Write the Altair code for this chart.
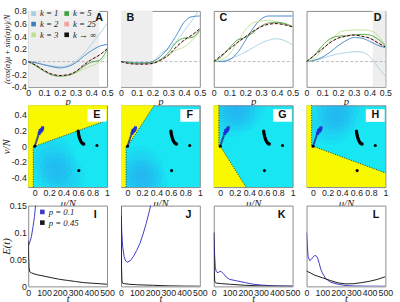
import altair as alt
import pandas as pd

# ---------------- data: row 1 (A-D) ----------------
P_GRID = [0.0, 0.05, 0.10, 0.15, 0.20, 0.25, 0.30, 0.35, 0.40, 0.45, 0.50]
K_NAMES = ["k = 1", "k = 2", "k = 3", "k = 5", "k = 25", "k → ∞"]
K_COLORS = ["#a6cee3", "#3b7fc0", "#bde08f", "#3ca33a", "#f6a09e", "#111111"]

A_CURVES = [
    [0, -0.02, -0.05, -0.07, -0.08, -0.06, 0.00, 0.12, 0.27, 0.43, 0.60],
    [0, -0.02, -0.05, -0.08, -0.10, -0.08, -0.02, 0.08, 0.17, 0.24, 0.27],
    [0, -0.07, -0.15, -0.21, -0.23, -0.22, -0.18, -0.12, -0.07, -0.01, 0.10],
    [0, -0.07, -0.15, -0.21, -0.23, -0.22, -0.17, -0.08, -0.01, 0.02, 0.18],
    [0, -0.06, -0.14, -0.20, -0.22, -0.21, -0.16, -0.06, 0.03, 0.10, 0.20],
    [0, -0.06, -0.14, -0.20, -0.22, -0.21, -0.16, -0.06, 0.03, 0.10, 0.20],
]
B_CURVES = [
    [0, -0.01, -0.02, -0.02, 0.00, 0.12, 0.20, 0.32, 0.48, 0.65, 0.83],
    [0, -0.01, -0.02, -0.02, 0.00, 0.08, 0.22, 0.41, 0.62, 0.71, 0.72],
    [0, -0.02, -0.03, -0.03, -0.02, 0.03, 0.10, 0.18, 0.23, 0.33, 0.48],
    [0, -0.02, -0.03, -0.03, -0.02, 0.03, 0.14, 0.30, 0.37, 0.38, 0.50],
    [0, -0.03, -0.04, -0.04, -0.03, 0.02, 0.10, 0.22, 0.33, 0.41, 0.51],
    [0, -0.03, -0.04, -0.04, -0.03, 0.02, 0.10, 0.23, 0.34, 0.42, 0.52],
]
C_CURVES = [
    [0, 0.01, 0.04, 0.09, 0.15, 0.22, 0.29, 0.34, 0.36, 0.33, 0.26],
    [0, 0.00, 0.03, 0.14, 0.33, 0.53, 0.67, 0.72, 0.72, 0.72, 0.72],
    [0, 0.03, 0.12, 0.30, 0.50, 0.61, 0.64, 0.65, 0.63, 0.60, 0.56],
    [0, 0.08, 0.22, 0.34, 0.38, 0.46, 0.56, 0.61, 0.62, 0.60, 0.55],
    [0, 0.10, 0.20, 0.30, 0.39, 0.48, 0.55, 0.60, 0.60, 0.58, 0.55],
    [0, 0.10, 0.20, 0.30, 0.39, 0.48, 0.55, 0.59, 0.60, 0.58, 0.55],
]
D_CURVES = [
    [0, 0.02, 0.05, 0.09, 0.12, 0.14, 0.155, 0.15, 0.08, -0.08, -0.23],
    [0, 0.02, 0.07, 0.15, 0.25, 0.33, 0.38, 0.37, 0.32, 0.26, 0.22],
    [0, 0.05, 0.18, 0.32, 0.45, 0.49, 0.50, 0.50, 0.49, 0.42, 0.25],
    [0, 0.10, 0.25, 0.36, 0.40, 0.41, 0.42, 0.43, 0.42, 0.36, 0.25],
    [0, 0.10, 0.20, 0.30, 0.37, 0.40, 0.42, 0.40, 0.37, 0.30, 0.23],
    [0, 0.10, 0.20, 0.30, 0.37, 0.40, 0.42, 0.40, 0.37, 0.30, 0.23],
]
ROW1_CURVES = [A_CURVES, B_CURVES, C_CURVES, D_CURVES]
ROW1_SHADE = [(0.0, 0.45), (0.0, 0.20), None, (0.42, 0.50)]
ROW1_LETTERS = ["A", "B", "C", "D"]
ROW1_LETTER_P = [0.45, 0.06, 0.06, 0.45]
ROW1_LETTER_V = [0.69, 0.69, 0.69, 0.69]
P_TICKS = [0, 0.1, 0.2, 0.3, 0.4, 0.5]
V1_TICKS = [-0.4, -0.2, 0, 0.2, 0.4, 0.6, 0.8]
V1_DOMAIN = [-0.4, 0.8]

# ---------------- data: row 2 (E-H) ----------------
MU_DOMAIN = [-0.09, 1.0]
NU_DOMAIN = [-0.52, 0.52]
MU_TICKS = [0, 0.2, 0.4, 0.6, 0.8, 1]
NU_TICKS = [-0.4, -0.2, 0, 0.2, 0.4]
# phase boundaries (mu, nu) and which side is yellow
E_BND_MU = [-0.0201, -0.02, 0.0, 1.0]
E_BND_NU = [-0.52, 0.0, 0.0, 0.33]
F_BND_MU = [-0.0201, -0.02, 0.0, 0.37]
F_BND_NU = [-0.52, 0.0, 0.0, 0.52]
G_BND_MU = [-0.0201, -0.02, 0.0, 0.355]
G_BND_NU = [0.52, 0.0, 0.0, -0.52]
H_BND_MU = [-0.0201, -0.02, 0.0, 1.0]
H_BND_NU = [0.52, 0.0, 0.0, -0.34]
ROW2_BND = [(E_BND_MU, E_BND_NU, "above"), (F_BND_MU, F_BND_NU, "above"),
            (G_BND_MU, G_BND_NU, "below"), (H_BND_MU, H_BND_NU, "below")]
ROW2_LETTERS = ["E", "F", "G", "H"]
# soft bluish patches inside the cyan region (centre mu, centre nu)
E_GLOW = [(0.24, -0.18), (0.36, -0.40)]
F_GLOW = [(0.17, -0.30), (0.22, -0.48)]
G_GLOW = [(0.15, 0.42), (0.30, 0.50)]
H_GLOW = [(0.25, 0.32), (0.38, 0.48)]
ROW2_GLOW = [E_GLOW, F_GLOW, G_GLOW, H_GLOW]
GLOW_SIZES = [2400, 1500, 800, 300]

CROSS_MU = [0.006, 0.014, 0.022, 0.030, 0.038, 0.046]
CROSS_NU = [0.018, 0.040, 0.062, 0.084, 0.106, 0.128]
CLUSTER_MU = [0.06, 0.07, 0.075, 0.085, 0.09, 0.10, 0.105, 0.11]
CLUSTER_NU = [0.16, 0.18, 0.20, 0.19, 0.21, 0.205, 0.225, 0.235]
CURVE_MU = [0.600, 0.603, 0.607, 0.612, 0.618, 0.625, 0.633, 0.642, 0.652, 0.664, 0.677]
CURVE_NU = [0.19, 0.17, 0.15, 0.13, 0.11, 0.09, 0.072, 0.056, 0.043, 0.033, 0.028]
DOT_MU = [0.0, 0.86, 0.61]
DOT_NU = [0.0, 0.01, -0.31]

# ---------------- data: row 3 (I-L) ----------------
SERIES = ["p = 0.1", "p = 0.45"]
SERIES_COLORS = ["#3b3bc4", "#1a1a1a"]
T_TICKS = [0, 100, 200, 300, 400, 500]
E_TICKS = [0, 0.05, 0.1, 0.15]
I_BLUE_T = [0, 4, 10, 20, 30, 40, 47, 55]
I_BLUE_E = [0.076, 0.077, 0.082, 0.092, 0.110, 0.130, 0.152, 0.175]
I_BLACK_T = [0, 2, 5, 10, 20, 50, 100, 150, 200, 250, 300, 350, 400, 450, 500]
I_BLACK_E = [0.085, 0.060, 0.035, 0.027, 0.025, 0.022, 0.019, 0.016, 0.013, 0.011, 0.009, 0.007, 0.006, 0.005, 0.004]
J_BLUE_T = [0, 5, 10, 20, 30, 40, 60, 80, 100, 120, 140, 160, 180, 200]
J_BLUE_E = [0.15, 0.10, 0.075, 0.055, 0.047, 0.045, 0.048, 0.056, 0.067, 0.080, 0.097, 0.117, 0.140, 0.165]
J_BLACK_T = [0, 3, 6, 10, 20, 50, 100, 200, 300, 400, 500]
J_BLACK_E = [0.13, 0.04, 0.01, 0.006, 0.005, 0.004, 0.003, 0.002, 0.001, 0.0005, 0.0003]
K_BLUE_T = [0, 5, 10, 15, 20, 30, 40, 50, 60, 80, 100, 150, 200, 250, 300, 350, 400, 450, 500]
K_BLUE_E = [0.10, 0.06, 0.035, 0.028, 0.026, 0.026, 0.028, 0.027, 0.024, 0.017, 0.013, 0.010, 0.007, 0.004, 0.0025, 0.0015, 0.001, 0.0007, 0.0005]
K_BLACK_T = [0, 3, 6, 10, 20, 50, 100, 200, 300, 400, 500]
K_BLACK_E = [0.10, 0.03, 0.01, 0.007, 0.006, 0.005, 0.004, 0.002, 0.0008, 0.0003, 0.0002]
L_BLUE_T = [0, 5, 10, 20, 30, 40, 50, 60, 70, 80, 90, 100, 120, 150, 200, 250, 300, 400, 500]
L_BLUE_E = [0.10, 0.075, 0.055, 0.048, 0.050, 0.054, 0.057, 0.057, 0.053, 0.043, 0.032, 0.025, 0.015, 0.008, 0.004, 0.0015, 0.0008, 0.0004, 0.0003]
L_BLACK_T = [0, 10, 25, 50, 100, 150, 200, 250, 300, 350, 400, 450, 500]
L_BLACK_E = [0.029, 0.027, 0.025, 0.021, 0.016, 0.011, 0.0065, 0.0045, 0.005, 0.007, 0.0095, 0.013, 0.018]
ROW3 = [(I_BLUE_T, I_BLUE_E, I_BLACK_T, I_BLACK_E), (J_BLUE_T, J_BLUE_E, J_BLACK_T, J_BLACK_E),
        (K_BLUE_T, K_BLUE_E, K_BLACK_T, K_BLACK_E), (L_BLUE_T, L_BLUE_E, L_BLACK_T, L_BLACK_E)]
ROW3_LETTERS = ["I", "J", "K", "L"]
ROW3_LETTER_T = [425, 428, 430, 440]
ROW3_LETTER_E = [0.132, 0.132, 0.132, 0.132]

# ---------------- styling ----------------
SERIF = "Liberation Serif"
SANS = "Liberation Sans"
YELLOW = "#f8f800"
CYAN = "#18e6f2"
GLOW = "#3f7ff0"
FRAME = "#8a8a8a"
W, H1, H2, H3 = 81, 78, 84, 83
LBL = "replace(format(datum.value, '~g'), '\u2212', '-')"


def xaxis(values, title, tpad):
    return alt.Axis(values=values, title=title, labelExpr=LBL, ticks=False, domain=False, grid=False,
                    labelOverlap=False, labelFlush=False, labelPadding=2, titlePadding=tpad,
                    labelFont=SANS, labelFontSize=9, labelColor="#222",
                    titleFont=SERIF, titleFontStyle="italic", titleFontSize=11,
                    titleFontWeight="normal", titleColor="#222")


def yaxis(values, title, size):
    return alt.Axis(values=values, title=title, labelExpr=LBL, ticks=False, domain=False, grid=False,
                    labelOverlap=False, labelFlush=False, labelPadding=2, titlePadding=1,
                    minExtent=16, maxExtent=16,
                    labelFont=SANS, labelFontSize=9, labelColor="#222",
                    titleFont=SERIF, titleFontStyle="italic", titleFontSize=size,
                    titleFontWeight="normal", titleColor="#222")


def make_xy(xdom, xticks, xtitle, tpad, ydom, yticks, ytitle, ysize, first):
    def X(f):
        return alt.X(f"{f}:Q", scale=alt.Scale(domain=xdom, nice=False, zero=False),
                     axis=xaxis(xticks, xtitle, tpad))

    def Y(f):
        return alt.Y(f"{f}:Q", scale=alt.Scale(domain=ydom, nice=False, zero=False),
                     axis=yaxis(yticks, ytitle, ysize) if first else None)
    return X, Y


def row1_panel(i):
    first = i == 0
    X, Y = make_xy([0, 0.5], P_TICKS, "p", -2, V1_DOMAIN, V1_TICKS,
                   "(cos(α)μ + sin(α)ν)/N", 8.3, first)
    recs = []
    for name, vals in zip(K_NAMES, ROW1_CURVES[i]):
        for p, v in zip(P_GRID, vals):
            recs.append({"p": p, "v": v, "k": name,
                         "style": "dash" if name == "k → ∞" else "solid"})
    df = pd.DataFrame(recs)
    layers = []
    shade = ROW1_SHADE[i]
    if shade is not None:
        sdf = pd.DataFrame([{"p0": shade[0], "p1": shade[1], "v0": V1_DOMAIN[0], "v1": V1_DOMAIN[1]}])
        layers.append(alt.Chart(sdf).mark_rect(color="#eeeeee").encode(
            x=X("p0"), x2="p1", y=Y("v0"), y2="v1"))
    zdf = pd.DataFrame({"p": [0, 0.5], "v": [0, 0]})
    layers.append(alt.Chart(zdf).mark_line(color="#aaaaaa", strokeDash=[3, 2], strokeWidth=0.8).encode(
        x=X("p"), y=Y("v")))
    legend = None
    if first:
        legend = alt.Legend(orient="none", legendX=0, legendY=-3, columns=2, title=None,
                            symbolType="square", symbolSize=5, symbolStrokeWidth=2.5,
                            labelFont=SERIF, labelFontStyle="italic", labelFontSize=9,
                            labelColor="#222", columnPadding=1, rowPadding=-2.5,
                            labelOffset=2, padding=1)
    layers.append(alt.Chart(df).mark_line(strokeWidth=1, clip=True, interpolate="monotone").encode(
        x=X("p"), y=Y("v"),
        color=alt.Color("k:N", scale=alt.Scale(domain=K_NAMES, range=K_COLORS), legend=legend),
        strokeDash=alt.StrokeDash("style:N", scale=alt.Scale(domain=["solid", "dash"],
                                                             range=[[1, 0], [3, 2]]), legend=None),
    ))
    ldf = pd.DataFrame({"p": [ROW1_LETTER_P[i]], "v": [ROW1_LETTER_V[i]], "t": [ROW1_LETTERS[i]]})
    layers.append(alt.Chart(ldf).mark_text(font=SANS, fontWeight="bold", fontSize=11, color="#111",
                                           align="center", baseline="middle").encode(
        x=X("p"), y=Y("v"), text="t:N"))
    return alt.layer(*layers).properties(width=W, height=H1)


def row2_panel(i):
    first = i == 0
    X, Y = make_xy(MU_DOMAIN, MU_TICKS, "μ/N", 0, NU_DOMAIN, NU_TICKS, "ν/N", 11, first)
    bmu, bnu, side = ROW2_BND[i]
    edge = NU_DOMAIN[0] if side == "above" else NU_DOMAIN[1]
    other = NU_DOMAIN[1] if side == "above" else NU_DOMAIN[0]
    amu = [MU_DOMAIN[0]] + bmu
    anu = [edge] + bnu
    if bmu[-1] < MU_DOMAIN[1]:
        amu = amu + [MU_DOMAIN[1]]
        anu = anu + [other]
    adf = pd.DataFrame({"mu": amu, "nu": anu, "nu2": [other] * len(amu)})
    bdf = pd.DataFrame({"mu": bmu, "nu": bnu, "o": list(range(len(bmu)))})
    gdf = pd.DataFrame({"mu": [m for m, n in ROW2_GLOW[i]], "nu": [n for m, n in ROW2_GLOW[i]]})
    layers = [
        alt.Chart(gdf).mark_circle(color=GLOW, opacity=0.07, size=s, clip=True).encode(
            x=X("mu"), y=Y("nu"))
        for s in GLOW_SIZES
    ]
    layers += [
        alt.Chart(adf).mark_area(color=YELLOW, opacity=1, interpolate="linear", orient="vertical").encode(
            x=X("mu"), y=Y("nu"), y2="nu2"),
        alt.Chart(bdf).mark_line(color="#3a3a20", strokeDash=[1, 1.5], strokeWidth=1).encode(
            x=X("mu"), y=Y("nu"), order="o:Q"),
        alt.Chart(pd.DataFrame({"mu": CROSS_MU, "nu": CROSS_NU})).mark_point(
            shape="cross", angle=45, filled=True, size=6, color="#2a3a8a", opacity=1).encode(
            x=X("mu"), y=Y("nu")),
        alt.Chart(pd.DataFrame({"mu": CLUSTER_MU, "nu": CLUSTER_NU})).mark_square(
            size=9, color="#1f2fd0", opacity=1).encode(x=X("mu"), y=Y("nu")),
        alt.Chart(pd.DataFrame({"mu": CURVE_MU, "nu": CURVE_NU})).mark_circle(
            size=12, color="#000000", opacity=1).encode(x=X("mu"), y=Y("nu")),
        alt.Chart(pd.DataFrame({"mu": DOT_MU, "nu": DOT_NU})).mark_circle(
            size=10, color="#000000", opacity=1).encode(x=X("mu"), y=Y("nu")),
        alt.Chart(pd.DataFrame({"mu": [0.73], "mu2": [0.99], "nu": [0.31], "nu2": [0.47]})).mark_rect(
            color="white").encode(x=X("mu"), x2="mu2", y=Y("nu"), y2="nu2"),
        alt.Chart(pd.DataFrame({"mu": [0.86], "nu": [0.39], "t": [ROW2_LETTERS[i]]})).mark_text(
            font=SANS, fontWeight="bold", fontSize=11, color="#111", align="center",
            baseline="middle").encode(x=X("mu"), y=Y("nu"), text="t:N"),
    ]
    return alt.layer(*layers).properties(width=W, height=H2,
                                         view=alt.ViewBackground(fill=CYAN, stroke=FRAME))


def row3_panel(i):
    first = i == 0
    X, Y = make_xy([0, 500], T_TICKS, "t", -4, [0, 0.15], E_TICKS, "E(t)", 11, first)
    bt, be, kt, ke = ROW3[i]
    recs = [{"t": t, "e": e, "s": SERIES[0]} for t, e in zip(bt, be)]
    recs += [{"t": t, "e": e, "s": SERIES[1]} for t, e in zip(kt, ke)]
    df = pd.DataFrame(recs)
    legend = None
    if first:
        legend = alt.Legend(orient="none", legendX=9, legendY=1, title=None,
                            symbolType="square", symbolSize=5, symbolStrokeWidth=2.5,
                            labelFont=SERIF, labelFontStyle="italic", labelFontSize=9,
                            labelColor="#222", rowPadding=-2.5,
                            labelOffset=2, padding=1)
    lines = alt.Chart(df).mark_line(strokeWidth=1, clip=True).encode(
        x=X("t"), y=Y("e"),
        color=alt.Color("s:N", scale=alt.Scale(domain=SERIES, range=SERIES_COLORS), legend=legend))
    ldf = pd.DataFrame({"t": [ROW3_LETTER_T[i]], "e": [ROW3_LETTER_E[i]], "l": [ROW3_LETTERS[i]]})
    text = alt.Chart(ldf).mark_text(font=SANS, fontWeight="bold", fontSize=11, color="#111",
                                    align="center", baseline="middle").encode(
        x=X("t"), y=Y("e"), text="l:N")
    return alt.layer(lines, text).properties(width=W, height=H3)


cells = [row1_panel(i) for i in range(4)] + [row2_panel(i) for i in range(4)] + \
        [row3_panel(i) for i in range(4)]

chart = alt.concat(*cells, columns=4, spacing=alt.RowColnumber(row=19, column=14.33),
                   bounds="flush").resolve_scale(color="independent", strokeDash="independent") \
    .properties(padding={"left": 0, "top": 2, "right": 7, "bottom": 0}) \
    .configure_view(stroke=FRAME, strokeWidth=1, fill="white")

chart.save("out.html", embed_options={"renderer": "svg", "actions": False})
